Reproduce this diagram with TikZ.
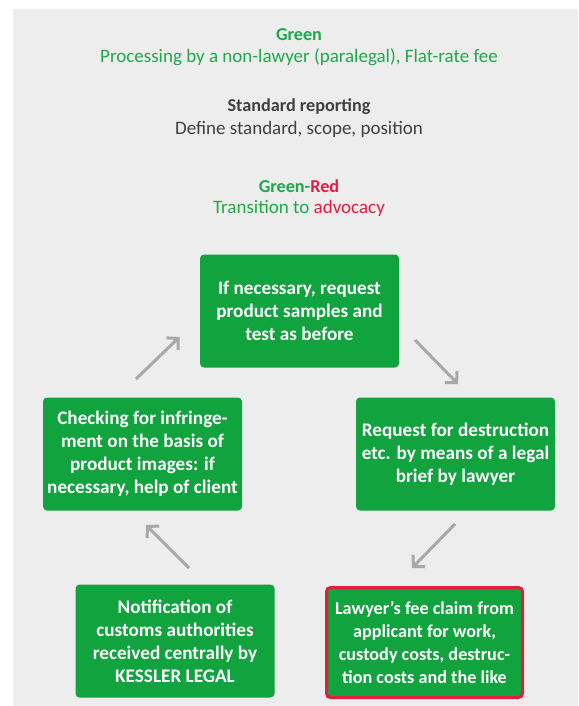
\documentclass[tikz,border=0pt]{standalone}
\usepackage{fontspec}
\setmainfont{Carlito}
\usetikzlibrary{arrows.meta}
\definecolor{bg}{HTML}{EDEDED}
\definecolor{boxgreen}{HTML}{10A33E}
\definecolor{txtgreen}{HTML}{20A84A}
\definecolor{txtred}{HTML}{E21D40}
\definecolor{txtgray}{HTML}{404040}
\definecolor{arrgray}{HTML}{A8A8A8}
\tikzset{
  stepbox/.style={fill=boxgreen, rounded corners=4pt, text=white, align=center,
    inner sep=0pt, minimum width=199pt, minimum height=113pt,
    font=\bfseries\fontsize{19.2}{23}\selectfont},
  redbox/.style={stepbox, draw=txtred, line width=3pt, minimum width=196pt, minimum height=110pt,
    font=\bfseries\fontsize{18.2}{23}\selectfont},
  headtxt/.style={font=\bfseries\fontsize{18.2}{20}\selectfont, inner sep=0pt},
  subtxt/.style={font=\fontsize{19}{20}\selectfont, inner sep=0pt},
  arr/.style={draw=arrgray, line width=3pt, -{Straight Barb[length=8pt,width=17pt]}}
}
\begin{document}
\begin{tikzpicture}[x=1pt,y=-1pt]
\useasboundingbox (0,0) rectangle (578,706);
\fill[white] (0,0) rectangle (578,706);
\fill[bg] (13,9) rectangle (578,706);

\node[headtxt, text=txtgreen] (h1) at (299,35) {Green};
\node[subtxt, text=txtgreen] (s1) at (299,57) {Processing by a non-lawyer (paralegal), Flat-rate fee};
\node[headtxt, text=txtgray] (h2) at (299,107) {Standard reporting};
\node[subtxt, text=txtgray] (s2) at (299,129) {Define standard, scope, position};
\node[headtxt] (h3) at (299,186) {\textcolor{txtgreen}{Green-}\textcolor{txtred}{Red}};
\node[subtxt] (s3) at (299,208) {\textcolor{txtgreen}{Transition to }\textcolor{txtred}{advocacy}};

\node[stepbox] (top) at (299.5,311) {If necessary, request\\product samples and\\test as before};
\node[stepbox] (left) at (142.5,454) {Checking for infringe-\\ment on the basis of\\product images: if\\necessary, help of client};
\node[stepbox] (right) at (455.5,454) {Request for destruction\\etc. by means of a legal\\brief by lawyer};
\node[stepbox] (bl) at (175,641) {Notification of\\customs authorities\\received centrally by\\KESSLER LEGAL};
\node[redbox] (br) at (424.5,642.5) {Lawyer's fee claim from\\applicant for work,\\custody costs, destruc-\\tion costs and the like};

\coordinate (a1s) at (136,379); \coordinate (a1e) at (179.5,337);
\coordinate (a2s) at (415,340); \coordinate (a2e) at (458,384);
\coordinate (a3s) at (455,524); \coordinate (a3e) at (412,568);
\coordinate (a4s) at (189,568); \coordinate (a4e) at (146,525);
\draw[arr] (a1s) -- (a1e);
\draw[arr] (a2s) -- (a2e);
\draw[arr] (a3s) -- (a3e);
\draw[arr] (a4s) -- (a4e);
\end{tikzpicture}
\end{document}
